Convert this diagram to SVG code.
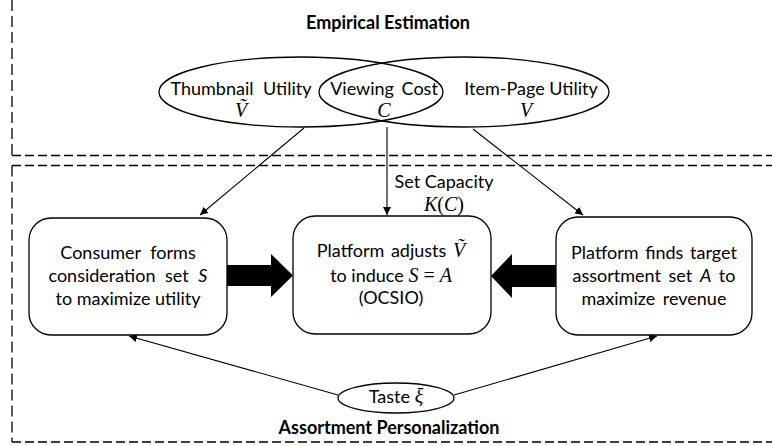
<svg xmlns="http://www.w3.org/2000/svg" width="772" height="446" viewBox="0 0 772 446">
<defs>
<marker id="ah" viewBox="0 0 10 10" refX="10" refY="5" markerWidth="8" markerHeight="8" markerUnits="userSpaceOnUse" orient="auto">
<path d="M0,0 L10,5 L0,10 Z" fill="#000"/>
</marker>
</defs>
<style>
.t{font-family:Lato,"Liberation Sans",sans-serif;font-size:18px;fill:#000;text-anchor:middle}
.b{font-family:Lato,"Liberation Sans",sans-serif;font-size:18px;font-weight:bold;fill:#000;text-anchor:middle}
.m{font-family:"Liberation Serif","DejaVu Serif",serif;font-style:italic;font-size:20px}
.u{font-family:"Liberation Serif","DejaVu Serif",serif;font-style:normal;font-size:20px}
.i{font-style:italic}
.w{word-spacing:5px}
.dh{fill:none;stroke:#000;stroke-width:1.3;stroke-dasharray:9 4}
.dv{fill:none;stroke:#000;stroke-width:1.3;stroke-dasharray:11 5}
.box{fill:#fff;stroke:#000;stroke-width:1.3}
.ell{fill:none;stroke:#000;stroke-width:1.3}
.c{fill:none;stroke:#000;stroke-width:1.1;marker-end:url(#ah)}
</style>
<g id="frames">
<path class="dv" d="M12,0 V155.5"/>
<path class="dh" d="M12,155.5 H772"/>
<path class="dh" d="M12,165.5 H772"/>
<path class="dv" d="M12,165.5 V442"/>
<path class="dh" d="M12,442 H772"/>
</g>
<text class="b" x="388" y="29">Empirical Estimation</text>
<text class="b" x="389" y="434">Assortment Personalization</text>
<g id="connectors">
<line class="c" x1="304" y1="128" x2="200" y2="215"/>
<line class="c" x1="387" y1="127" x2="387" y2="215"/>
<line class="c" x1="473" y1="129" x2="583" y2="215"/>
<line class="c" x1="338" y1="395" x2="129" y2="336"/>
<line class="c" x1="454" y1="395" x2="657" y2="336"/>
<path d="M227,265 H271 V254 L293,275.5 L271,297 V286 H227 Z" fill="#000"/>
<path d="M556,265 H512 V254 L491,276 L512,298 V287 H556 Z" fill="#000"/>
<text class="t" x="444" y="188">Set Capacity</text>
<text class="t" x="444" y="211"><tspan class="m">K</tspan><tspan class="u">(</tspan><tspan class="m">C</tspan><tspan class="u">)</tspan></text>
</g>
<g id="thumbnail">
<ellipse class="ell" cx="301" cy="92" rx="142" ry="35"/>
<text class="t w" x="241" y="95">Thumbnail Utility</text>
<text class="t m" x="241" y="117">Ṽ</text>
</g>
<g id="itempage">
<ellipse class="ell" cx="464" cy="92" rx="145" ry="35"/>
<text class="t" x="531" y="95">Item-Page Utility</text>
<text class="t m" x="526" y="117">V</text>
</g>
<g id="viewingcost">
<text class="t" x="384" y="95" style="word-spacing:3px">Viewing Cost</text>
<text class="t m" x="384" y="117">C</text>
</g>
<g id="consumer">
<rect class="box" x="29" y="218" width="198" height="117" rx="22"/>
<text class="t w" x="128" y="259">Consumer forms</text>
<text class="t w" x="128" y="282">consideration set <tspan class="i">S</tspan></text>
<text class="t" x="128" y="305">to maximize utility</text>
</g>
<g id="platform-adjust">
<rect class="box" x="293" y="216" width="198" height="118" rx="22"/>
<text class="t" x="391" y="257" style="word-spacing:2px">Platform adjusts <tspan class="m">Ṽ</tspan></text>
<text class="t" x="391" y="282">to induce <tspan class="m">S</tspan><tspan class="u"> = </tspan><tspan class="m">A</tspan></text>
<text class="t" x="391" y="304">(OCSIO)</text>
</g>
<g id="platform-find">
<rect class="box" x="556" y="217" width="196" height="118" rx="22"/>
<text class="t" x="654" y="259" style="word-spacing:2px">Platform finds target</text>
<text class="t" x="654" y="282" style="word-spacing:3px">assortment set <tspan class="i">A</tspan> to</text>
<text class="t" x="654" y="305" style="word-spacing:3px">maximize revenue</text>
</g>
<g id="taste">
<ellipse class="ell" cx="396" cy="398" rx="58" ry="15"/>
<text class="t" x="396" y="403">Taste <tspan class="m">ξ</tspan></text>
</g>
</svg>
